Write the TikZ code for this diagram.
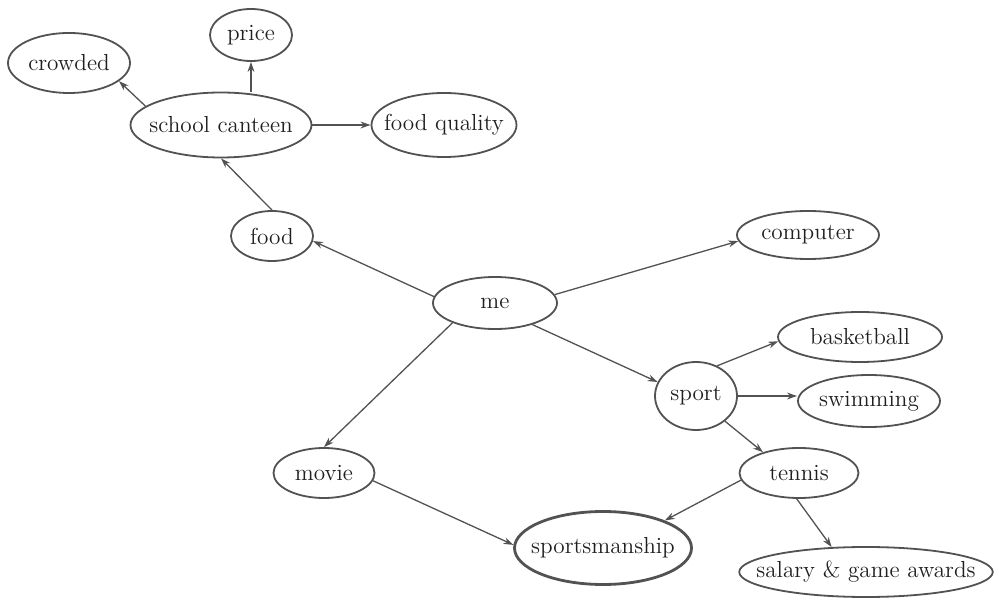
\documentclass[tikz,border=0pt]{standalone}
\usetikzlibrary{positioning, shapes.geometric, arrows.meta}
\newcommand{\linecolor}{black!68}
\newcommand{\labelcolor}{black!88}

\begin{document}
\begin{tikzpicture}[x=0.5pt, y=-0.5pt, font=\fontsize{11.6}{13}\selectfont,
	bub/.style 2 args={ellipse, draw=\linecolor, line width=0.9pt, text=\labelcolor, inner xsep=-10pt, inner ysep=0pt, minimum width=#1*0.5pt, minimum height=#2*0.5pt},
	arr/.style={-{Stealth[length=5pt,width=3.4pt]}, draw=\linecolor, line width=0.65pt}]
	\useasboundingbox (0,0) rectangle (996,598);
	% top left: canteen
	\node [bub={122}{60}] at (69,63) (crowded) {crowded};
	\node [bub={82}{52}] at (251,35) (price) {price};
	\node [bub={181}{65}] at (221,125) (canteen) {school canteen};
	\node [bub={145}{64}] at (444,125) (quality) {food quality};
	\node [bub={82}{50}] at (272,236) (food) {food};
	% centre
	\node [bub={124}{52}] at (495,303) (me) {me};
	\node [bub={142}{48}] at (808,235) (computer) {computer};
	% right: sport
	\node [bub={82}{68}] at (696,396) (sport) {sport};
	\node [bub={164}{50}] at (860,337) (basketball) {basketball};
	\node [bub={142}{52}] at (869,401) (swimming) {swimming};
	\node [bub={119}{50}] at (799,473) (tennis) {tennis};
	\node [bub={253}{50}] at (866,572) (salary) {salary \& game awards};
	% bottom
	\node [bub={101}{50}] at (324,473) (movie) {movie};
	\node [bub={177}{73}, line width=1.4pt] at (603,548) (sportsman) {sportsmanship};

	\draw [arr] (me.174) -- (food.353);
	\draw [arr] (me.8) -- (computer.185);
	\draw [arr] (me.330) -- (sport.160);
	\draw [arr] (me.205) -- (movie.north);
	\draw [arr] (food.north) -- (canteen.south);
	\draw [arr] (canteen.166) -- (crowded.340);
	\draw [arr] (canteen.north -| price) -- (price);
	\draw [arr] (canteen) -- (quality);
	\draw [arr] (sport.55) -- (basketball.183);
	\draw [arr] (sport.east) -- (sport.east -| swimming.west);
	\draw [arr] (sport.319) -- (tennis.150);
	\draw [arr] (movie.351) -- (sportsman.178);
	\draw [arr] (tennis.187) -- (sportsman.24);
	\draw [arr] (tennis.265) -- (salary.144);
\end{tikzpicture}
\end{document}
